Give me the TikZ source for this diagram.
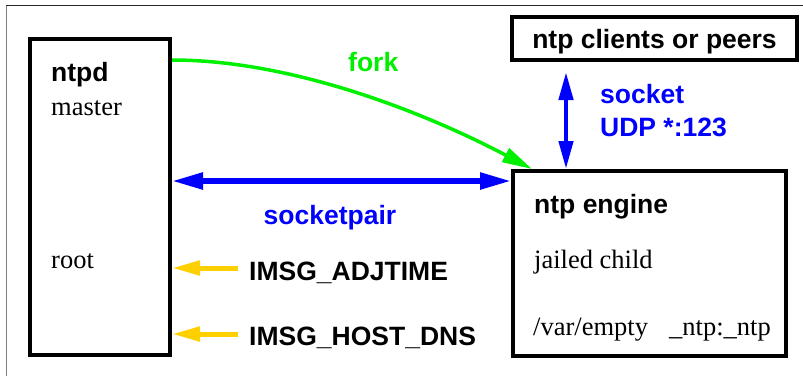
\documentclass[tikz,border=0pt]{standalone}
\usepackage{fontspec}
\setmainfont{Liberation Serif}
\setsansfont{Liberation Sans}
\usetikzlibrary{arrows.meta, positioning, calc}
\definecolor{SockBlue}{HTML}{0000FF}
\definecolor{ForkGreen}{HTML}{00F000}
\definecolor{MsgGold}{HTML}{FFD000}
\definecolor{FrameGray}{HTML}{808080}
\tikzset{
    procbox/.style={rectangle, draw=black, fill=white, line width=4pt, inner sep=0pt},
    headtext/.style={inner sep=0pt, anchor=base west, font=\fontsize{26.5}{30}\selectfont\sffamily\bfseries},
    roletext/.style={inner sep=0pt, anchor=base west, font=\fontsize{26.5}{30}\selectfont\rmfamily},
    pairarrow/.style={<->, >={Triangle[length=31pt, width=16pt]}, draw=SockBlue, line width=5.5pt},
    sockarrow/.style={<->, >={Triangle[length=28pt, width=14pt]}, draw=SockBlue, line width=4.5pt},
    forkarrow/.style={->, >={Triangle[length=30pt, width=15pt]}, draw=ForkGreen, line width=3.5pt},
    msgarrow/.style={->, >={Triangle[length=28pt, width=14pt]}, draw=MsgGold, line width=5pt}
}
\begin{document}
\begin{tikzpicture}[x=1pt, y=-1pt]
    \useasboundingbox (0,0) rectangle (803,376);
    % Frame
    \draw[FrameGray, line width=1.2pt] (6.5,376) -- (6.5,5);
    \draw[black!85, line width=1pt] (6,5) -- (803,5);

    % Nodes
    \node[procbox, minimum width=140pt, minimum height=316pt] (ntpd) at (100,197) {};
    \node[procbox, minimum width=273pt, minimum height=185pt] (engine) at (649.5,263.5) {};
    \node[procbox, minimum width=285pt, minimum height=43pt, text depth=0pt,
          font=\fontsize{26.5}{30}\selectfont\sffamily\bfseries] (clients) at (654.5,38.5) {ntp clients or peers};

    \node[headtext] (ntpdlbl) at (51,81) {ntpd};
    \node[roletext] (masterlbl) at (51,115) {master};
    \node[roletext] (rootlbl) at (51,268) {root};

    \node[headtext] (enginelbl) at (534,213) {ntp engine};
    \node[roletext] (jaillbl) at (534,268) {jailed child};
    \node[roletext] (varlbl) at (533,335) {/var/empty\hspace{0.8em}\_ntp:\_ntp};

    \node[headtext, text=ForkGreen] (forklbl) at (348,71) {fork};
    \node[headtext, text=SockBlue, anchor=base] (pairlbl) at (330,224) {socketpair};
    \node[headtext, text=SockBlue] (socklbl) at (600,103) {socket};
    \node[headtext, text=SockBlue] (udplbl) at ([yshift=-33pt]socklbl.base west) {UDP *:123};

    \node[headtext] (adjlbl) at (249,280) {IMSG\_ADJTIME};
    \node[headtext] (dnslbl) at (249,345) {IMSG\_HOST\_DNS};

    % Paths
    \draw[forkarrow] ([yshift=-23pt]ntpd.north east) .. controls +(117pt,0pt) and +(-112pt,59pt) .. ([xshift=21pt]engine.north west);
    \draw[pairarrow] ([yshift=-144pt]ntpd.north east) coordinate (pairl) -- (pairl -| engine.west);
    \coordinate (sockbot) at ([xshift=55pt]engine.north west);
    \coordinate (socktop) at ([yshift=-10pt]sockbot |- clients.south);
    \draw[sockarrow] (sockbot) -- (socktop);

    % Messages to the master
    \coordinate (adjtail) at ([xshift=-11pt, yshift=12pt]adjlbl.base west);
    \coordinate (dnstail) at ([xshift=-11pt, yshift=11pt]dnslbl.base west);
    \draw[msgarrow] (adjtail) -- (adjtail -| ntpd.east);
    \draw[msgarrow] (dnstail) -- (dnstail -| ntpd.east);
\end{tikzpicture}
\end{document}
